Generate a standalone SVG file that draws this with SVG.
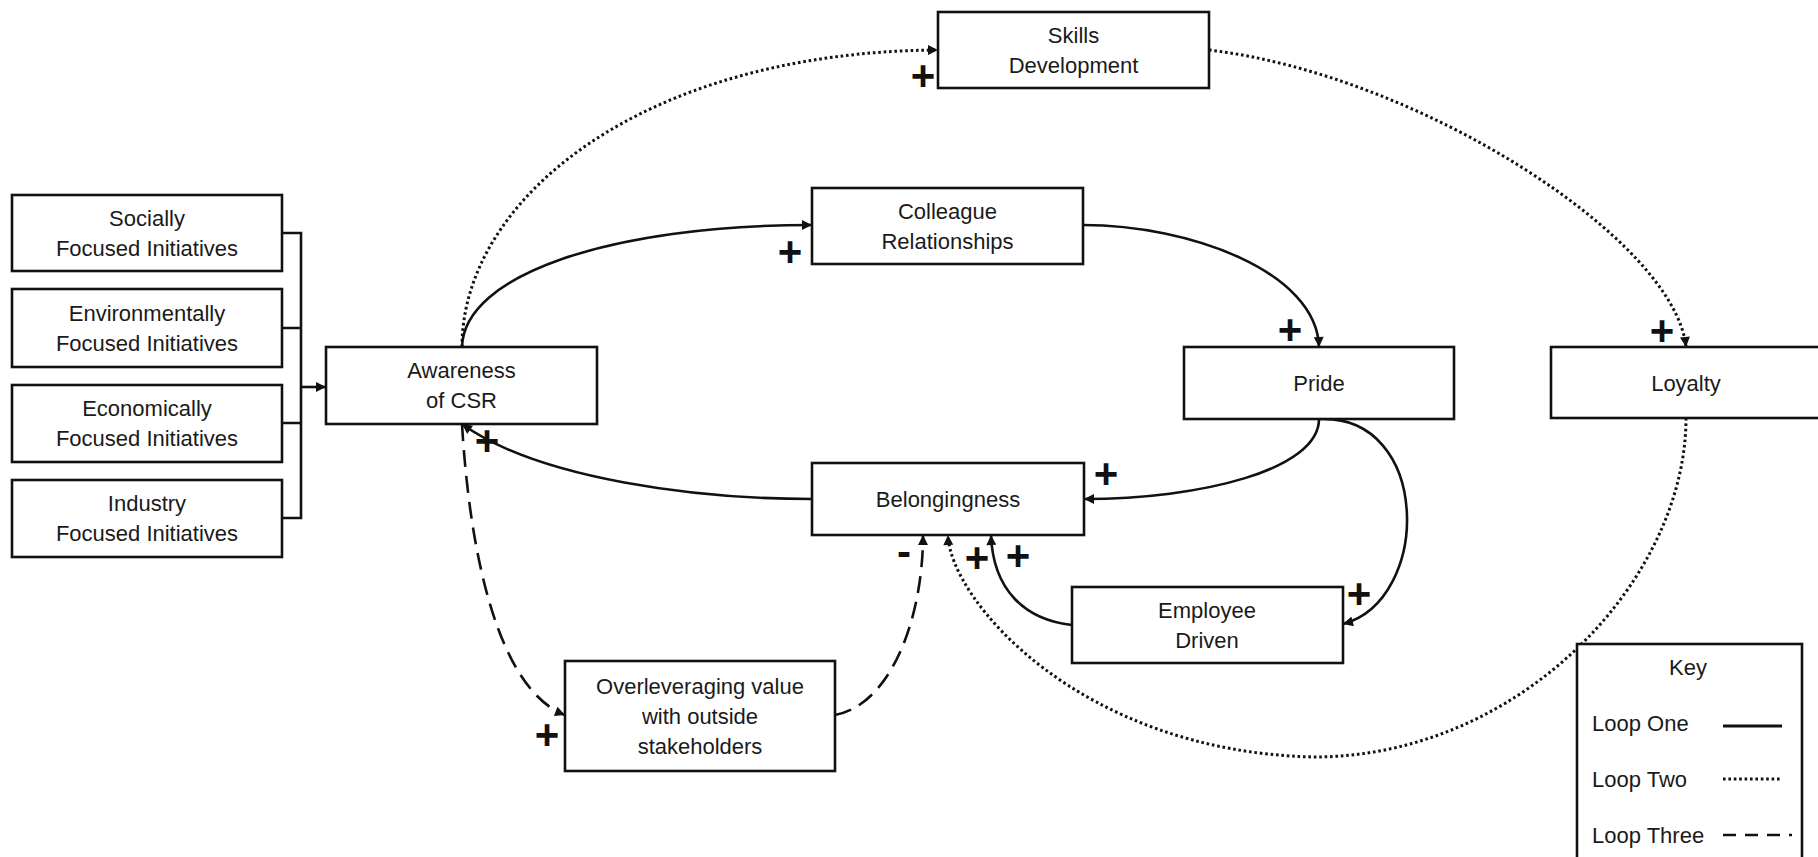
<svg xmlns="http://www.w3.org/2000/svg" width="1818" height="857" viewBox="0 0 1818 857">
<style>
  .box { fill: #fff; stroke: #111; stroke-width: 2.6; }
  .t { font-family: "Liberation Sans", Arial, sans-serif; font-size: 22px; fill: #1a1a1a; text-anchor: middle; }
  .tl { font-family: "Liberation Sans", Arial, sans-serif; font-size: 22px; fill: #1a1a1a; text-anchor: start; }
  .sign { font-family: "Liberation Sans", Arial, sans-serif; font-size: 42px; font-weight: bold; fill: #111; text-anchor: middle; }
  .solid { fill: none; stroke: #111; stroke-width: 2.6; }
  .dot { fill: none; stroke: #111; stroke-width: 3; stroke-dasharray: 2.6 2.8; }
  .dash { fill: none; stroke: #111; stroke-width: 2.6; stroke-dasharray: 17 9; }
</style>
<defs>
  <marker id="ah" viewBox="0 0 10 10" refX="10" refY="5" markerWidth="11" markerHeight="10" markerUnits="userSpaceOnUse" orient="auto">
    <path d="M0,0 L10,5 L0,10 z" fill="#111"/>
  </marker>
</defs>
<rect width="1818" height="857" fill="#fff"/>

<g id="connectors">
  <!-- bracket from initiatives -->
  <path class="solid" d="M282,233 H301 V518 H282 M282,328 H301 M282,423 H301"/>
  <path class="solid" d="M301,387 H326" marker-end="url(#ah)"/>
  <!-- Loop one -->
  <path class="solid" d="M462,347 C464,275 610,225 812,225" marker-end="url(#ah)"/>
  <path class="solid" d="M1083,225 C1190,225 1317,272 1319,347" marker-end="url(#ah)"/>
  <path class="solid" d="M1319,419 C1319,470 1200,499 1084,499" marker-end="url(#ah)"/>
  <path class="solid" d="M1319,419 C1432,414 1432,600 1343,624" marker-end="url(#ah)"/>
  <path class="solid" d="M1072,625 C1025,620 993,590 991,535" marker-end="url(#ah)"/>
  <path class="solid" d="M812,499 C700,499 540,480 462,424" marker-end="url(#ah)"/>
  <!-- Loop two -->
  <path class="dot" d="M462,347 C462,200 640,52 938,50" marker-end="url(#ah)"/>
  <path class="dot" d="M1209,50 C1420,75 1675,240 1686,347" marker-end="url(#ah)"/>
  <path class="dot" d="M1686,418 C1686,580 1520,757 1314,757 C1080,752 950,600 948,535" marker-end="url(#ah)"/>
  <!-- Loop three -->
  <path class="dash" d="M462,424 C470,560 500,690 565,715" marker-end="url(#ah)"/>
  <path class="dash" d="M835,715 C890,705 923,620 923,535" marker-end="url(#ah)"/>
</g>

<g id="signs">
  <text class="sign" x="923" y="90">+</text>
  <text class="sign" x="790" y="266">+</text>
  <text class="sign" x="1290" y="344">+</text>
  <text class="sign" x="1662" y="345">+</text>
  <text class="sign" x="487" y="455">+</text>
  <text class="sign" x="1106" y="488">+</text>
  <text class="sign" x="904" y="566">-</text>
  <text class="sign" x="977" y="572">+</text>
  <text class="sign" x="1018" y="570">+</text>
  <text class="sign" x="1359" y="608">+</text>
  <text class="sign" x="547" y="749">+</text>
</g>

<g id="socially">
  <rect class="box" x="12" y="195" width="270" height="76"/>
  <text class="t" x="147" y="226">Socially</text>
  <text class="t" x="147" y="256">Focused Initiatives</text>
</g>
<g id="environmentally">
  <rect class="box" x="12" y="289" width="270" height="78"/>
  <text class="t" x="147" y="321">Environmentally</text>
  <text class="t" x="147" y="351">Focused Initiatives</text>
</g>
<g id="economically">
  <rect class="box" x="12" y="385" width="270" height="77"/>
  <text class="t" x="147" y="416">Economically</text>
  <text class="t" x="147" y="446">Focused Initiatives</text>
</g>
<g id="industry">
  <rect class="box" x="12" y="480" width="270" height="77"/>
  <text class="t" x="147" y="511">Industry</text>
  <text class="t" x="147" y="541">Focused Initiatives</text>
</g>
<g id="awareness">
  <rect class="box" x="326" y="347" width="271" height="77"/>
  <text class="t" x="461.5" y="378">Awareness</text>
  <text class="t" x="461.5" y="408">of CSR</text>
</g>
<g id="skills">
  <rect class="box" x="938" y="12" width="271" height="76"/>
  <text class="t" x="1073.5" y="43">Skills</text>
  <text class="t" x="1073.5" y="73">Development</text>
</g>
<g id="colleague">
  <rect class="box" x="812" y="188" width="271" height="76"/>
  <text class="t" x="947.5" y="219">Colleague</text>
  <text class="t" x="947.5" y="249">Relationships</text>
</g>
<g id="pride">
  <rect class="box" x="1184" y="347" width="270" height="72"/>
  <text class="t" x="1319" y="391">Pride</text>
</g>
<g id="loyalty">
  <rect class="box" x="1551" y="347" width="272" height="71"/>
  <text class="t" x="1686" y="391">Loyalty</text>
</g>
<g id="belongingness">
  <rect class="box" x="812" y="463" width="272" height="72"/>
  <text class="t" x="948" y="507">Belongingness</text>
</g>
<g id="employee">
  <rect class="box" x="1072" y="587" width="271" height="76"/>
  <text class="t" x="1207" y="618">Employee</text>
  <text class="t" x="1207" y="648">Driven</text>
</g>
<g id="overleveraging">
  <rect class="box" x="565" y="661" width="270" height="110"/>
  <text class="t" x="700" y="694">Overleveraging value</text>
  <text class="t" x="700" y="724">with outside</text>
  <text class="t" x="700" y="754">stakeholders</text>
</g>
<g id="key">
  <rect class="box" x="1577" y="644" width="225" height="230"/>
  <text class="t" x="1688" y="675">Key</text>
  <text class="tl" x="1592" y="731">Loop One</text>
  <text class="tl" x="1592" y="787">Loop Two</text>
  <text class="tl" x="1592" y="843">Loop Three</text>
  <line class="solid" x1="1723" y1="726" x2="1782" y2="726" style="stroke-width:3"/>
  <line class="dot" x1="1723" y1="779" x2="1782" y2="779"/>
  <line class="dash" x1="1723" y1="835" x2="1792" y2="835" style="stroke-dasharray:13 9"/>
</g>
</svg>
